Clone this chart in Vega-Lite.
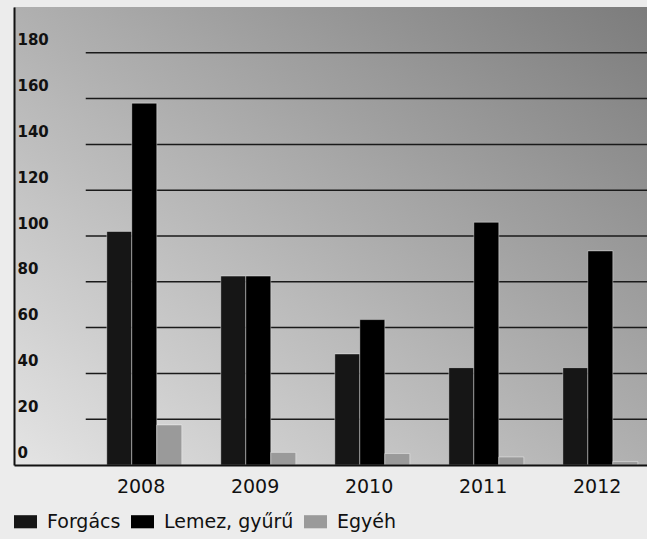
{
  "$schema": "https://vega.github.io/schema/vega-lite/v6.json",
  "width": 633,
  "height": 458,
  "autosize": {"type": "none"},
  "padding": {"left": 14, "top": 7, "right": 0, "bottom": 74},
  "background": "#ececec",
  "config": {"view": {"stroke": null}, "font": "DejaVu Sans"},
  "layer": [
    {
      "data": {"values": [{}]},
      "mark": {
        "type": "rect",
        "fill": {
          "gradient": "linear",
          "x1": 0, "y1": 1, "x2": 1, "y2": 0,
          "stops": [
            {"offset": 0, "color": "#e4e4e4"},
            {"offset": 0.5, "color": "#b0b0b0"},
            {"offset": 1, "color": "#7c7c7c"}
          ]
        }
      },
      "encoding": {}
    },
    {
      "data": {"values": [{"g": 20}, {"g": 40}, {"g": 60}, {"g": 80}, {"g": 100}, {"g": 120}, {"g": 140}, {"g": 160}, {"g": 180}]},
      "mark": {"type": "rule", "color": "#1a1a1a", "strokeWidth": 1.5},
      "encoding": {
        "x": {"datum": "2008", "type": "nominal", "bandPosition": -0.28, "title": null},
        "x2": {"value": "width"},
        "y": {"field": "g", "type": "quantitative", "title": null}
      }
    },
    {
      "data": {
        "values": [
          {"year": "2008", "type": "Forgács", "value": 102},
          {"year": "2008", "type": "Lemez, gyűrű", "value": 158},
          {"year": "2008", "type": "Egyéh", "value": 17.5},
          {"year": "2009", "type": "Forgács", "value": 82.5},
          {"year": "2009", "type": "Lemez, gyűrű", "value": 82.5},
          {"year": "2009", "type": "Egyéh", "value": 5.5},
          {"year": "2010", "type": "Forgács", "value": 48.5},
          {"year": "2010", "type": "Lemez, gyűrű", "value": 63.5},
          {"year": "2010", "type": "Egyéh", "value": 5},
          {"year": "2011", "type": "Forgács", "value": 42.5},
          {"year": "2011", "type": "Lemez, gyűrű", "value": 106},
          {"year": "2011", "type": "Egyéh", "value": 3.5},
          {"year": "2012", "type": "Forgács", "value": 42.5},
          {"year": "2012", "type": "Lemez, gyűrű", "value": 93.5},
          {"year": "2012", "type": "Egyéh", "value": 1.5}
        ]
      },
      "mark": {"type": "bar", "stroke": "#ffffff", "strokeWidth": 0.8, "strokeOpacity": 0.5},
      "encoding": {
        "x": {
          "field": "year",
          "type": "nominal",
          "scale": {"paddingInner": 0.342, "paddingOuter": 0.447, "align": 0.91},
          "axis": {
            "title": null,
            "labelAngle": 0,
            "bandPosition": 0.5,
            "labelOffset": 21,
            "domain": true,
            "domainColor": "#111111",
            "domainWidth": 2,
            "ticks": false,
            "tickSize": 0,
            "labelPadding": 21,
            "labelFont": "DejaVu Sans",
            "labelFontSize": 19,
            "labelColor": "#111111",
            "grid": false,
            "zindex": 1
          }
        },
        "xOffset": {
          "field": "type",
          "type": "nominal",
          "sort": ["Forgács", "Lemez, gyűrű", "Egyéh"],
          "scale": {"paddingInner": 0, "paddingOuter": 0}
        },
        "y": {
          "field": "value",
          "type": "quantitative",
          "scale": {"domain": [0, 200], "nice": false},
          "axis": {
            "title": null,
            "values": [0, 20, 40, 60, 80, 100, 120, 140, 160, 180],
            "grid": false,
            "domain": true,
            "domainColor": "#111111",
            "domainWidth": 2,
            "ticks": false,
            "tickSize": 0,
            "labelAlign": "left",
            "labelBaseline": "middle",
            "labelPadding": -3,
            "labelOffset": -13,
            "labelFont": "DejaVu Sans",
            "labelFontWeight": "bold",
            "labelFontSize": 15,
            "labelColor": "#111111",
            "zindex": 1
          }
        },
        "color": {
          "field": "type",
          "type": "nominal",
          "sort": ["Forgács", "Lemez, gyűrű", "Egyéh"],
          "scale": {"domain": ["Forgács", "Lemez, gyűrű", "Egyéh"], "range": ["#161616", "#000000", "#9a9a9a"]},
          "legend": {
            "title": null,
            "orient": "none",
            "legendX": 0,
            "legendY": 503,
            "direction": "horizontal",
            "symbolType": "M-1,-0.57H1V0.57H-1Z",
            "symbolSize": 529,
            "symbolStrokeWidth": 0,
            "labelFont": "DejaVu Sans",
            "labelFontSize": 19,
            "labelColor": "#111111",
            "labelOffset": 10,
            "columnPadding": 10,
            "padding": 0
          }
        }
      }
    }
  ]
}
